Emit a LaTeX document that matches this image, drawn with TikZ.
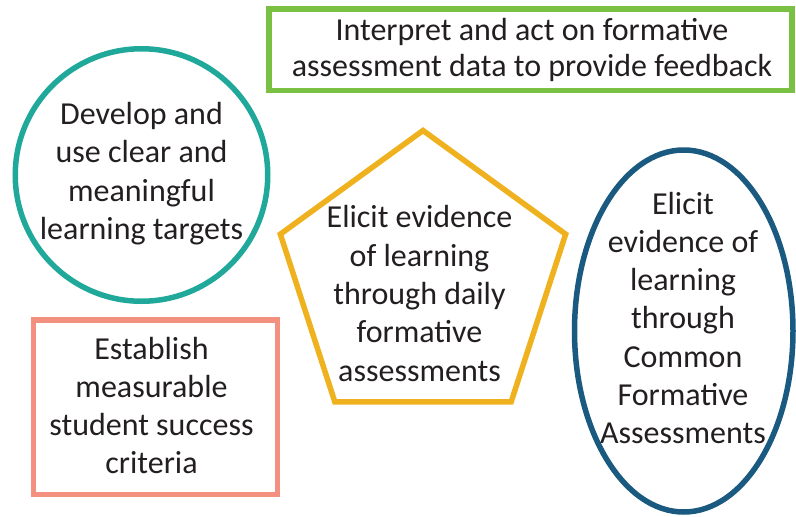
\documentclass[tikz,border=0pt]{standalone}
\usepackage{fontspec}
\setmainfont{Carlito}
\usetikzlibrary{shapes.geometric}
\definecolor{cgreen}{HTML}{7AC143}
\definecolor{cteal}{HTML}{20A99A}
\definecolor{cyellow}{HTML}{EFB21E}
\definecolor{cnavy}{HTML}{1A5A80}
\definecolor{csalmon}{HTML}{F3907F}
\definecolor{ctext}{HTML}{231F20}
\tikzset{
  shapebox/.style={draw, line width=5.5pt, inner sep=0pt, outer sep=0pt},
  label/.style={align=center, text=ctext, inner sep=0pt, font=\fontsize{32}{38.3}\selectfont},
}
\begin{document}
\begin{tikzpicture}[x=1pt,y=-1pt]
\useasboundingbox[fill=white] (0,0) rectangle (796,517);
% shapes
\node[shapebox, draw=cgreen, rectangle, minimum width=523pt, minimum height=81.5pt] (feedback) at (530.5,49.75) {};
\node[shapebox, draw=cteal, circle, minimum size=252.5pt] (targets) at (141.5,175) {};
\node[shapebox, draw=cyellow, regular polygon, regular polygon sides=5, minimum size=300pt] (daily) at (423,280.5) {};
\node[shapebox, draw=cnavy, ellipse, minimum width=218.5pt, minimum height=362pt] (common) at (683.75,331) {};
\node[shapebox, draw=csalmon, rectangle, minimum width=244pt, minimum height=174.5pt] (criteria) at (155.5,407.25) {};
% labels
\node[label, font=\fontsize{32}{36}\selectfont] (feedbacktext) at (532,50) {Interpret and act on formative\\assessment data to provide feedback};
\node[label] (targetstext) at (141.5,173.5) {Develop and\\use clear and\\meaningful\\learning targets};
\node[label] (dailytext) at (419.5,293.5) {Elicit evidence\\of learning\\through daily\\formative\\assessments};
\node[label] (commontext) at (683,318) {Elicit\\evidence of\\learning\\through\\Common\\Formative\\Assessments};
\node[label] (criteriatext) at (151.5,405.5) {Establish\\measurable\\student success\\criteria};
\end{tikzpicture}
\end{document}
